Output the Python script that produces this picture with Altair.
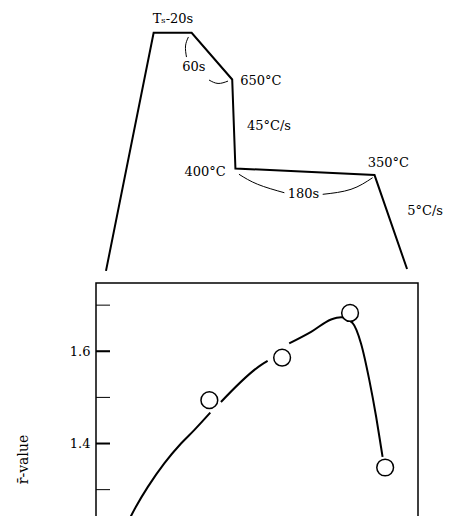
import altair as alt
import pandas as pd

# ---------------- top: schematic heat cycle (schematic units 0-100) ----------------
path_x = [3.1, 17.9, 29.7, 42.3, 43.3, 86.5, 96.6]
path_y = [0.8, 91.0, 91.0, 73.3, 39.6, 37.1, 1.5]

arc_id = [0, 0, 0, 1, 1, 1, 2, 2, 2, 3, 3, 3]
arc_x = [28.7, 27.8, 28.1, 35.1, 37.9, 41.0, 44.4, 50.2, 58.5, 70.4, 79.2, 85.9]
arc_y = [89.4, 86.0, 81.8, 73.1, 71.8, 72.7, 37.4, 33.6, 30.4, 29.8, 31.7, 36.1]

label_text = ["T\u209b-20s", "60s", "650\u00b0C", "45\u00b0C/s", "400\u00b0C", "350\u00b0C", "180s", "5\u00b0C/s"]
label_x = [23.9, 30.4, 51.2, 53.7, 33.9, 90.8, 64.4, 102.2]
label_y = [96.2, 78.0, 72.7, 55.7, 38.3, 41.7, 29.9, 23.5]

# ---------------- bottom: r-value plot ----------------
curve_seg = [0, 0, 0, 0, 0, 0, 0, 1, 1, 1, 2, 2, 2, 2, 2, 2, 2, 2, 2, 2]
curve_x = [9.0, 12.4, 16.1, 21.2, 26.4, 30.5, 35.5, 38.8, 51.2, 53.3,
           60.0, 66.8, 73.0, 76.1, 79.7, 82.3, 84.9, 87.0, 88.5, 89.0]
curve_r = [1.217, 1.263, 1.306, 1.357, 1.400, 1.429, 1.467, 1.490, 1.570, 1.579,
           1.617, 1.642, 1.669, 1.674, 1.661, 1.617, 1.537, 1.458, 1.393, 1.371]

point_x = [35.2, 57.8, 78.9, 89.8]
point_r = [1.494, 1.586, 1.683, 1.348]

tick_values = [1.2, 1.3, 1.4, 1.5, 1.6, 1.7]
major_values = [1.2, 1.4, 1.6]
label_values = [1.4, 1.6]

FONT = "DejaVu Serif"

df_path = pd.DataFrame({"x": path_x, "y": path_y, "i": list(range(len(path_x)))})
df_arc = pd.DataFrame({"x": arc_x, "y": arc_y, "g": arc_id, "i": list(range(len(arc_x)))})
df_lab = pd.DataFrame({"x": label_x, "y": label_y, "t": label_text})

sx = alt.Scale(domain=[0, 100], nice=False, zero=False)
sy = alt.Scale(domain=[0, 100], nice=False, zero=False)

path = alt.Chart(df_path).mark_line(color="black", strokeWidth=2).encode(
    x=alt.X("x:Q", scale=sx, axis=None),
    y=alt.Y("y:Q", scale=sy, axis=None),
    order="i:O",
)
arcs = alt.Chart(df_arc).mark_line(color="black", strokeWidth=1, interpolate="natural").encode(
    x=alt.X("x:Q", scale=sx, axis=None),
    y=alt.Y("y:Q", scale=sy, axis=None),
    detail="g:N",
    order="i:O",
)
labels = alt.Chart(df_lab).mark_text(
    font=FONT, fontSize=13, color="black", align="center", baseline="middle"
).encode(
    x=alt.X("x:Q", scale=sx, axis=None),
    y=alt.Y("y:Q", scale=sy, axis=None),
    text="t:N",
)
top = alt.layer(path, arcs, labels).properties(
    width=322, height=264, view=alt.ViewBackground(stroke="transparent")
)

df_curve = pd.DataFrame({"x": curve_x, "r": curve_r, "seg": curve_seg})
df_pts = pd.DataFrame({"x": point_x, "r": point_r})
df_ticks = pd.DataFrame({"r": tick_values})
df_major = pd.DataFrame({"r": major_values})

bx = alt.Scale(domain=[0, 100], nice=False, zero=False)
by = alt.Scale(domain=[1.18, 1.748], nice=False, zero=False)
yaxis = alt.Axis(
    values=label_values, format=".1f",
    labelFont=FONT, labelFontSize=13, labelColor="black", labelPadding=6,
    ticks=False, tickSize=0, domain=False, grid=False,
    title="r\u0304-value", titleFont=FONT, titleFontSize=14, titleFontWeight="normal",
    titleColor="black", titleAngle=270, titleX=-73, titleY=176,
    titleAlign="center", titleBaseline="middle",
)

ticks = alt.Chart(df_ticks).mark_rule(color="black", strokeWidth=1).encode(
    y=alt.Y("r:Q", scale=by, axis=yaxis), x=alt.value(0), x2=alt.value(14)
)
majors = alt.Chart(df_major).mark_rule(color="black", strokeWidth=2).encode(
    y=alt.Y("r:Q", scale=by, axis=yaxis), x=alt.value(0), x2=alt.value(14)
)
curve = alt.Chart(df_curve).mark_line(color="black", strokeWidth=2, interpolate="monotone").encode(
    x=alt.X("x:Q", scale=bx, axis=None),
    y=alt.Y("r:Q", scale=by, axis=yaxis),
    detail="seg:N",
)
points = alt.Chart(df_pts).mark_circle(
    size=280, fill="white", stroke="black", strokeWidth=1.5, opacity=1
).encode(
    x=alt.X("x:Q", scale=bx, axis=None),
    y=alt.Y("r:Q", scale=by, axis=yaxis),
)
bottom = alt.layer(ticks, majors, curve, points).properties(
    width=322, height=262, view=alt.ViewBackground(stroke="black", strokeWidth=1.5)
)

chart = alt.vconcat(top, bottom, spacing=6).properties(
    padding={"left": 7, "top": 0, "right": 0, "bottom": 0},
    background="white",
)

chart.save("out.html", embed_options={"renderer": "svg", "actions": False})
